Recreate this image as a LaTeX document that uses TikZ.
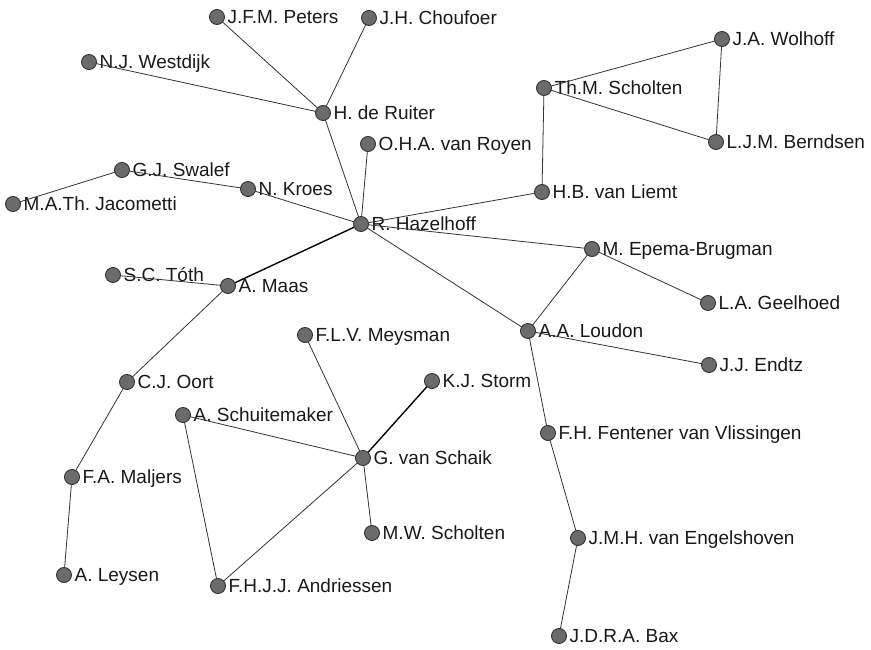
\documentclass[tikz,border=0pt]{standalone}
\usepackage{fontspec}
\setmainfont{Liberation Sans}
\frenchspacing
\pgfdeclarelayer{bg}
\pgfdeclarelayer{fg}
\pgfsetlayers{bg,main,fg}
\begin{document}
\begin{tikzpicture}[x=1pt,y=-1pt,
  vtx/.style={circle,fill=black!58,draw=black!80,line width=0.9pt,minimum size=15pt,inner sep=0pt},
  lbl/.style={anchor=west,inner sep=0pt,xshift=2.5pt,text height=13.6pt,text depth=0pt,font=\fontsize{19}{21}\selectfont\frenchspacing,text=black!90},
  edge/.style={draw=black!80,line width=0.8pt},
  strong/.style={draw=black,line width=1.4pt}]
\useasboundingbox (0,0) rectangle (871,650);
\def\V#1#2#3{\begin{pgfonlayer}{fg}\node[vtx] (#1) at (#2) {};\end{pgfonlayer}%
  \begin{pgfonlayer}{bg}\node[lbl] at (#1.east) {#3};\end{pgfonlayer}}
\V{peters}{217,17}{J.F.M. Peters}
\V{chouf}{369,18}{J.H. Choufoer}
\V{westd}{89,62}{N.J. Westdijk}
\V{ruiter}{323,113}{H. de Ruiter}
\V{royen}{368,144}{O.H.A. van Royen}
\V{wolh}{722,39}{J.A. Wolhoff}
\V{thms}{544,88}{Th.M. Scholten}
\V{bernd}{716,142}{L.J.M. Berndsen}
\V{liemt}{542,192}{H.B. van Liemt}
\V{swalef}{122,170}{G.J. Swalef}
\V{kroes}{248,189}{N. Kroes}
\V{jacom}{13,204}{M.A.Th. Jacometti}
\V{hazel}{361,224}{R. Hazelhoff}
\V{toth}{113,275}{S.C. Tóth}
\V{maas}{228,286}{A. Maas}
\V{epema}{592,249}{M. Epema-Brugman}
\V{geel}{708,303}{L.A. Geelhoed}
\V{loudon}{528,331}{A.A. Loudon}
\V{endtz}{709,365}{J.J. Endtz}
\V{fent}{548,433}{F.H. Fentener van Vlissingen}
\V{meys}{305,335}{F.L.V. Meysman}
\V{storm}{432,381}{K.J. Storm}
\V{schaik}{363,458}{G. van Schaik}
\V{oort}{127,382}{C.J. Oort}
\V{schuit}{183,415}{A. Schuitemaker}
\V{maljers}{72,477}{F.A. Maljers}
\V{leysen}{64,575}{A. Leysen}
\V{andr}{218,586}{F.H.J.J. Andriessen}
\V{mws}{372,533}{M.W. Scholten}
\V{engel}{578,538}{J.M.H. van Engelshoven}
\V{bax}{559,636}{J.D.R.A. Bax}
\path[edge] (peters.center) -- (ruiter.center);
\path[edge] (chouf.center) -- (ruiter.center);
\path[edge] (westd.center) -- (ruiter.center);
\path[edge] (ruiter.center) -- (hazel.center);
\path[edge] (royen.center) -- (hazel.center);
\path[edge] (hazel.center) -- (liemt.center);
\path[edge] (liemt.center) -- (thms.center);
\path[edge] (thms.center) -- (wolh.center);
\path[edge] (thms.center) -- (bernd.center);
\path[edge] (wolh.center) -- (bernd.center);
\path[edge] (jacom.center) -- (swalef.center);
\path[edge] (swalef.center) -- (kroes.center);
\path[edge] (kroes.center) -- (hazel.center);
\path[edge] (hazel.center) -- (epema.center);
\path[edge] (epema.center) -- (geel.center);
\path[edge] (epema.center) -- (loudon.center);
\path[edge] (hazel.center) -- (loudon.center);
\path[strong] (hazel.center) -- (maas.center);
\path[edge] (toth.center) -- (maas.center);
\path[edge] (maas.center) -- (oort.center);
\path[edge] (oort.center) -- (maljers.center);
\path[edge] (maljers.center) -- (leysen.center);
\path[edge] (loudon.center) -- (endtz.center);
\path[edge] (loudon.center) -- (fent.center);
\path[edge] (fent.center) -- (engel.center);
\path[edge] (engel.center) -- (bax.center);
\path[edge] (meys.center) -- (schaik.center);
\path[strong] (storm.center) -- (schaik.center);
\path[edge] (schuit.center) -- (schaik.center);
\path[edge] (schuit.center) -- (andr.center);
\path[edge] (schaik.center) -- (andr.center);
\path[edge] (schaik.center) -- (mws.center);
\end{tikzpicture}
\end{document}
